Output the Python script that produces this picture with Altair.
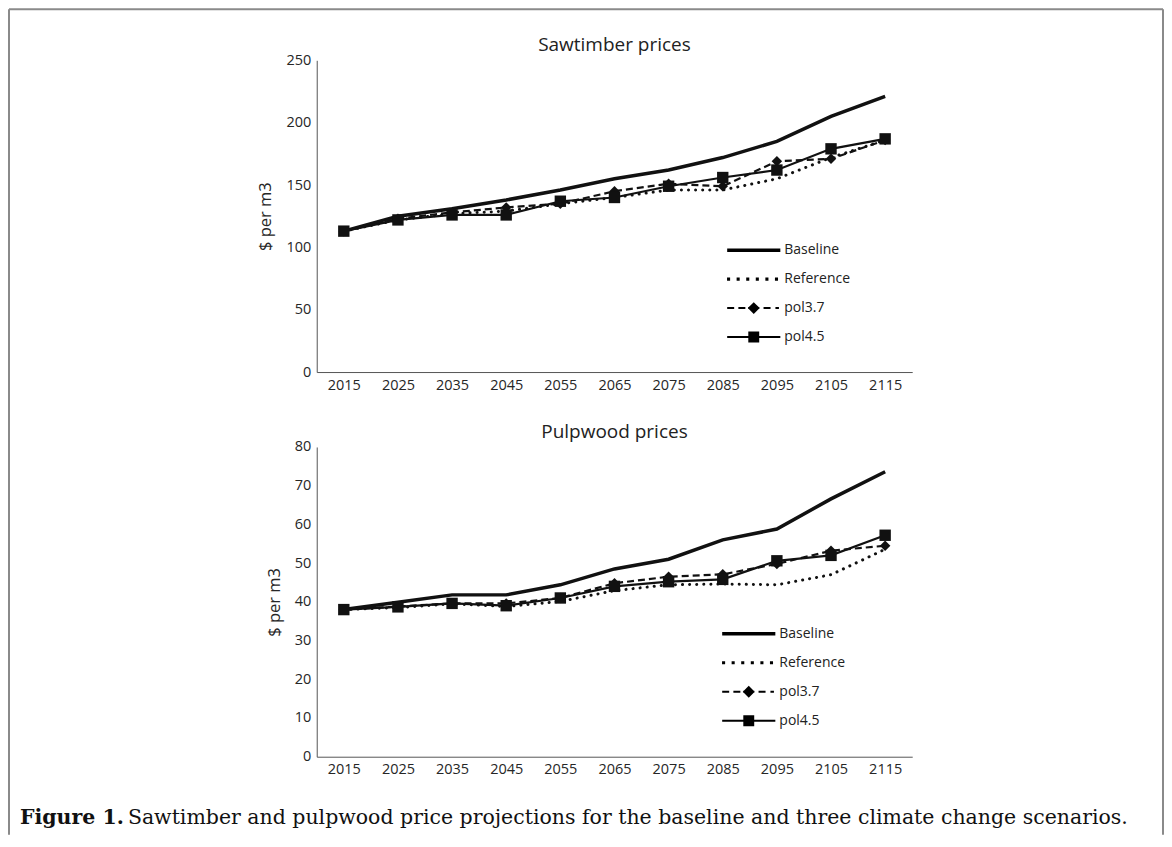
import altair as alt
import pandas as pd

years = ["2015", "2025", "2035", "2045", "2055", "2065", "2075", "2085", "2095", "2105", "2115"]
series_names = ["Baseline", "Reference", "pol3.7", "pol4.5"]

saw_baseline = [113, 125, 131, 138, 146, 155, 162, 172, 185, 205, 221]
saw_reference = [113, 122, 127, 129, 135, 140, 146, 146, 155, 172, 186]
saw_pol37 = [113, 123, 128, 132, 135, 145, 151, 149, 169, 171, 186]
saw_pol45 = [113, 122, 126, 126, 137, 140, 149, 156, 162, 179, 187]

pulp_baseline = [38, 39.9, 41.8, 41.8, 44.4, 48.5, 51, 56, 58.8, 66.6, 73.6]
pulp_reference = [38, 38.5, 39.5, 38.8, 40.1, 42.9, 44.4, 44.6, 44.4, 47, 53.6]
pulp_pol37 = [38, 38.8, 39.6, 39.6, 41, 44.8, 46.5, 47.1, 49.8, 53.2, 54.5]
pulp_pol45 = [38, 38.7, 39.6, 39.0, 41.0, 44.0, 45.2, 45.8, 50.6, 52.0, 57.2]

title_top = "Sawtimber prices"
title_bottom = "Pulpwood prices"
y_title = "$ per m3"
caption_bold = "Figure 1."
caption_rest = "Sawtimber and pulpwood price projections for the baseline and three climate change scenarios."

FONT = "Open Sans"
INK = "#111111"
TXT = "#262626"
PLOT_W = 596


def long_df(values_by_series):
    rows = []
    for name, vals in zip(series_names, values_by_series):
        for y, v in zip(years, vals):
            rows.append({"year": y, "price": v, "series": name})
    return pd.DataFrame(rows)


# legend glyphs (custom symbol paths, unit = sqrt(size)/2 px)
def rect(x0, x1, h):
    return f"M{x0},{-h}H{x1}V{h}H{x0}Z"


def sq(cx, r):
    return f"M{cx - r},{-r}H{cx + r}V{r}H{cx - r}Z"


def dmd(cx, r):
    return f"M{cx - r},0L{cx},{-r}L{cx + r},0L{cx},{r}Z"


L0, L1, MID = -6.6, 1.0, -2.8
path_baseline = rect(L0, L1, 0.25)
path_reference = "".join(sq(c, 0.22) for c in [-6.4, -5.03, -3.66, -2.29, -0.92, 0.45])
path_pol37 = (rect(-6.6, -5.6, 0.14) + rect(-5.0, -4.0, 0.14) + rect(-3.6, -2.0, 0.14)
              + dmd(MID, 0.85) + rect(-1.4, -0.4, 0.14) + rect(0.3, 0.8, 0.14))
path_pol45 = rect(L0, L1, 0.14) + sq(MID, 0.78)
legend_paths = [path_baseline, path_reference, path_pol37, path_pol45]

one = pd.DataFrame({"k": [0]})


def title_mark(text):
    return alt.Chart(one).mark_text(font=FONT, fontSize=19, color="#222222",
                                    align="center", baseline="middle").encode(
        x=alt.value(PLOT_W / 2), y=alt.value(-15), text=alt.value(text))


def panel(df, title, ymax, ystep, height, leg_x, leg_y, extra_layers):
    base = alt.Chart(df).encode(
        x=alt.X("year:O", sort=years, scale=alt.Scale(type="point", padding=0.5),
                axis=alt.Axis(title=None, ticks=False, labelAngle=0, labelPadding=6)),
        y=alt.Y("price:Q", scale=alt.Scale(domain=[0, ymax], nice=False),
                axis=alt.Axis(title=y_title, values=list(range(0, ymax + 1, ystep)),
                              ticks=False, grid=False, labelPadding=6, titlePadding=12)),
    )
    ref = base.transform_filter(alt.datum.series == "Reference").mark_line(
        color=INK, strokeWidth=3, strokeDash=[0.1, 7], strokeCap="round")
    p37 = base.transform_filter(alt.datum.series == "pol3.7").mark_line(
        color=INK, strokeWidth=2.2, strokeDash=[7, 4])
    p45 = base.transform_filter(alt.datum.series == "pol4.5").mark_line(
        color=INK, strokeWidth=2.2)
    bl = base.transform_filter(alt.datum.series == "Baseline").mark_line(
        color=INK, strokeWidth=3.5)
    p37m = base.transform_filter(alt.datum.series == "pol3.7").mark_point(
        shape="diamond", filled=True, size=110, opacity=1, color=INK)
    p45m = base.transform_filter(alt.datum.series == "pol4.5").mark_point(
        shape="square", filled=True, size=130, opacity=1, color=INK)
    leg = alt.Chart(pd.DataFrame({"series": series_names})).transform_filter("false").mark_point(
        filled=True, opacity=1, color="black").encode(
        shape=alt.Shape("series:N", scale=alt.Scale(domain=series_names, range=legend_paths),
                        legend=alt.Legend(orient="none", legendX=leg_x, legendY=leg_y, title=None,
                                          symbolSize=196, symbolStrokeWidth=0,
                                          symbolFillColor="black", symbolOpacity=1,
                                          labelFont=FONT, labelFontSize=14, labelColor="#222222",
                                          labelOffset=4, rowPadding=15, padding=0)))
    layers = [ref, p37, p45, bl, p37m, p45m, leg, title_mark(title)] + extra_layers
    return alt.layer(*layers).properties(width=PLOT_W, height=height)


frame_col = "#8a8a8a"
FX0, FX1, FY0, FY1 = -308, 847, -51, 775
frame = [
    alt.Chart(one).mark_rule(color=frame_col, strokeWidth=2).encode(
        x=alt.value(FX0), x2=alt.value(FX1), y=alt.value(FY0)),
    alt.Chart(one).mark_rule(color=frame_col, strokeWidth=2).encode(
        x=alt.value(FX0), y=alt.value(FY0), y2=alt.value(FY1)),
    alt.Chart(one).mark_rule(color=frame_col, strokeWidth=2).encode(
        x=alt.value(FX1), y=alt.value(FY0), y2=alt.value(FY1)),
]
caption = [
    alt.Chart(one).mark_text(font="DejaVu Serif", fontSize=20.5, fontWeight="bold",
                             align="left", baseline="middle", color=INK).encode(
        x=alt.value(-297), y=alt.value(371), text=alt.value(caption_bold)),
    alt.Chart(one).mark_text(font="DejaVu Serif", fontSize=20.5, fontWeight="normal",
                             align="left", baseline="middle", color=INK).encode(
        x=alt.value(-189), y=alt.value(371), text=alt.value(caption_rest)),
]

top_df = long_df([saw_baseline, saw_reference, saw_pol37, saw_pol45])
bot_df = long_df([pulp_baseline, pulp_reference, pulp_pol37, pulp_pol45])

top = panel(top_df, title_top, 250, 50, 312, 450, 183, frame)
bottom = panel(bot_df, title_bottom, 80, 10, 310, 445, 180, caption)

chart = alt.vconcat(top, bottom, spacing=75, bounds="flush").resolve_scale(
    x="independent", y="independent", shape="independent"
).resolve_legend(shape="independent").properties(padding=0).configure_view(
    stroke=None
).configure_axis(
    labelFont=FONT, labelFontSize=14.5, labelColor=TXT,
    titleFont=FONT, titleFontSize=16.5, titleFontWeight="normal", titleColor=TXT,
    domainColor="#555555", domainWidth=1,
)

chart.save("out.html", embed_options={"renderer": "svg", "actions": False})
